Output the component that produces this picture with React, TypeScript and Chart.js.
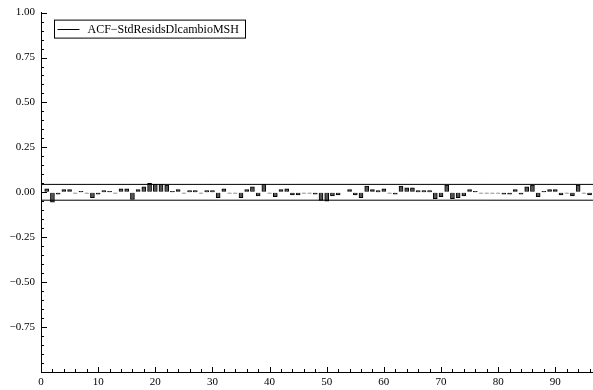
import React, { useEffect, useRef } from "react";
import { Chart, registerables } from "chart.js";

Chart.register(...registerables);

const SERIES_LABEL = "ACF\u2212StdResidsDlcambioMSH";

const LAGS = [
  1, 2, 3, 4, 5, 6, 7, 8, 9, 10, 11, 12, 13, 14, 15, 16, 17, 18, 19, 20,
  21, 22, 23, 24, 25, 26, 27, 28, 29, 30, 31, 32, 33, 34, 35, 36, 37, 38, 39, 40,
  41, 42, 43, 44, 45, 46, 47, 48, 49, 50, 51, 52, 53, 54, 55, 56, 57, 58, 59, 60,
  61, 62, 63, 64, 65, 66, 67, 68, 69, 70, 71, 72, 73, 74, 75, 76, 77, 78, 79, 80,
  81, 82, 83, 84, 85, 86, 87, 88, 89, 90, 91, 92, 93, 94, 95, 96,
];

const ACF = [
  0.02, -0.055, -0.01, 0.015, 0.015, -0.005, 0.005, -0.005, -0.03, -0.01,
  0.01, 0.005, -0.005, 0.02, 0.02, -0.04, 0.015, 0.03, 0.05, 0.045,
  0.045, 0.04, 0.005, 0.015, -0.005, 0.01, 0.01, -0.005, 0.01, 0.01,
  -0.03, 0.02, -0.005, -0.005, -0.03, 0.015, 0.03, -0.02, 0.045, -0.005,
  -0.025, 0.015, 0.02, -0.015, -0.015, -0.005, -0.005, -0.01, -0.045, -0.05,
  -0.02, -0.015, 0.0, 0.015, -0.015, -0.03, 0.035, 0.015, 0.01, 0.02,
  -0.005, -0.01, 0.035, 0.025, 0.025, 0.01, 0.01, 0.01, -0.035, -0.025,
  0.04, -0.035, -0.03, -0.02, 0.015, 0.005, -0.005, -0.005, -0.005, -0.005,
  -0.01, -0.01, 0.015, -0.01, 0.03, 0.04, -0.025, 0.005, 0.015, 0.015,
  -0.015, -0.005, -0.02, 0.04, -0.005, -0.015,
];

const CONF_BAND = 0.044;

const X_MIN = 0;
const X_MAX = 96.6;
const X_STEP = 10;
const X_MINOR_STEP = 2;
const Y_MIN = -1;
const Y_MAX = 1;
const Y_STEP = 0.25;
const Y_MINOR_STEP = 0.05;

const FONT = "'Liberation Serif', 'DejaVu Serif', serif";

function fmtY(v: number): string {
  const s = Math.abs(v).toFixed(2);
  return v < -1e-9 ? "\u2212" + s : s;
}

const overlayPlugin = {
  id: "overlayPlugin",
  afterDraw(chart: any) {
    const { ctx, chartArea, scales } = chart;
    const x = scales.x;
    const y = scales.y;
    ctx.save();
    ctx.strokeStyle = "#000";
    ctx.lineWidth = 1;
    ctx.beginPath();
    const nY = Math.round((Y_MAX - Y_MIN) / Y_MINOR_STEP);
    for (let i = 0; i <= nY; i++) {
      const v = Y_MIN + i * Y_MINOR_STEP;
      const py = Math.round(y.getPixelForValue(v)) + 0.5;
      const len = i % 5 === 0 ? 6 : 3;
      ctx.moveTo(chartArea.left, py);
      ctx.lineTo(chartArea.left + len, py);
    }
    for (let v = X_MIN; v <= X_MAX; v += X_MINOR_STEP) {
      const px = Math.round(x.getPixelForValue(v)) + 0.5;
      const len = v % X_STEP === 0 ? 5 : 3;
      ctx.moveTo(px, chartArea.bottom);
      ctx.lineTo(px, chartArea.bottom - len);
    }
    ctx.stroke();

    // legend box inside plot
    const bx = chartArea.left + 13.5;
    const by = chartArea.top + 7.5;
    const bw = 191;
    const bh = 18;
    ctx.fillStyle = "#fff";
    ctx.fillRect(bx, by, bw, bh);
    ctx.strokeRect(bx, by, bw, bh);
    const ly = Math.round(by + bh / 2) + 0.5;
    ctx.beginPath();
    ctx.moveTo(bx + 3, ly);
    ctx.lineTo(bx + 25, ly);
    ctx.stroke();
    ctx.fillStyle = "#000";
    ctx.font = `12px ${FONT}`;
    ctx.textBaseline = "middle";
    ctx.textAlign = "left";
    ctx.fillText(SERIES_LABEL, bx + 33, by + bh / 2 + 0.5);
    ctx.restore();
  },
};

export default function App() {
  const ref = useRef<HTMLCanvasElement | null>(null);

  useEffect(() => {
    if (!ref.current) return;
    const barData = LAGS.map((lag, i) => ({ x: lag, y: ACF[i] }));
    const chart = new Chart(ref.current, {
      type: "bar",
      data: {
        datasets: [
          {
            type: "bar",
            label: SERIES_LABEL,
            data: barData as any,
            backgroundColor: "#555555",
            borderColor: "#000000",
            borderWidth: 1,
            barThickness: 4,
            order: 2,
          } as any,
          {
            type: "line",
            label: "upper",
            data: [
              { x: X_MIN, y: CONF_BAND },
              { x: X_MAX, y: CONF_BAND },
            ],
            borderColor: "#000",
            borderWidth: 1,
            pointRadius: 0,
            fill: false,
            order: 1,
          } as any,
          {
            type: "line",
            label: "lower",
            data: [
              { x: X_MIN, y: -CONF_BAND },
              { x: X_MAX, y: -CONF_BAND },
            ],
            borderColor: "#000",
            borderWidth: 1,
            pointRadius: 0,
            fill: false,
            order: 1,
          } as any,
        ],
      },
      options: {
        animation: false,
        responsive: false,
        devicePixelRatio: 1,
        layout: { padding: { top: 12, right: 0, left: 0, bottom: 0 } },
        plugins: {
          legend: { display: false },
          tooltip: { enabled: false },
        },
        scales: {
          x: {
            type: "linear",
            min: X_MIN,
            max: X_MAX,
            offset: false,
            grid: { display: true, drawOnChartArea: false, drawTicks: false },
            border: { display: true, color: "#000", width: 1 },
            ticks: {
              stepSize: X_STEP,
              includeBounds: false,
              maxRotation: 0,
              autoSkip: false,
              padding: 4,
              color: "#000",
              font: { family: FONT, size: 11 },
              callback: (v: any) => String(v),
            },
            afterFit: (scale: any) => {
              scale.height = 18;
            },
          },
          y: {
            type: "linear",
            min: Y_MIN,
            max: Y_MAX,
            grid: { display: true, drawOnChartArea: false, drawTicks: false },
            border: { display: true, color: "#000", width: 1 },
            ticks: {
              stepSize: Y_STEP,
              padding: 6,
              color: "#000",
              font: { family: FONT, size: 11 },
              callback: (v: any) => (Math.abs(v - Y_MIN) < 1e-9 ? null : fmtY(Number(v))),
            },
            afterFit: (scale: any) => {
              scale.width = 41;
            },
          },
        },
      },
      plugins: [overlayPlugin],
    });
    return () => chart.destroy();
  }, []);

  return (
    <div style={{ position: "fixed", left: 0, top: 0, width: 593, height: 390, background: "#fff" }}>
      <canvas ref={ref} width={593} height={390} style={{ width: 593, height: 390, display: "block" }} />
    </div>
  );
}
